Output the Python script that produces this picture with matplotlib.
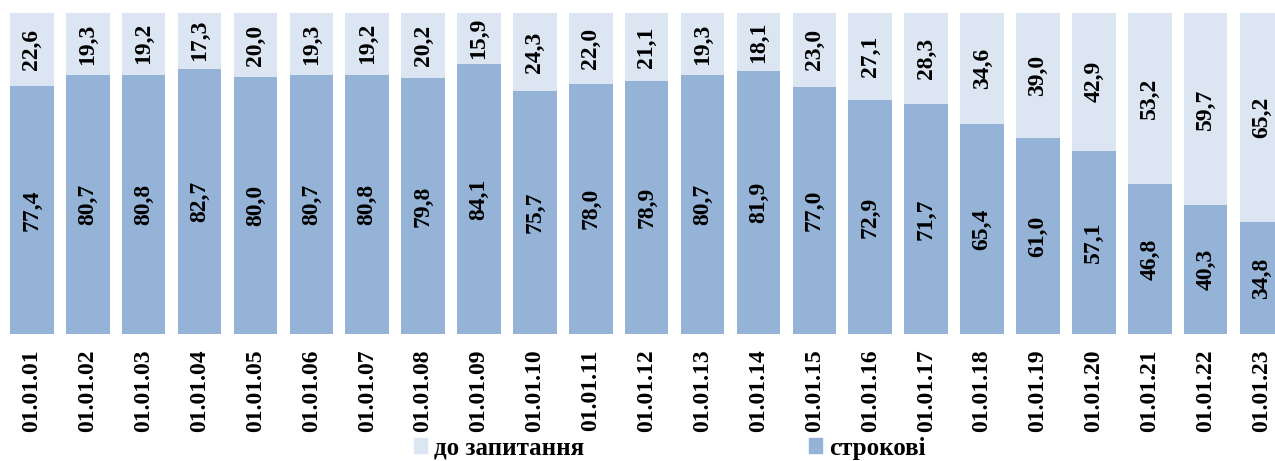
import matplotlib.pyplot as plt
from matplotlib.patches import Patch

# дані: частка строкових депозитів і депозитів до запитання, %
dates = ['01.01.01', '01.01.02', '01.01.03', '01.01.04', '01.01.05', '01.01.06',
         '01.01.07', '01.01.08', '01.01.09', '01.01.10', '01.01.11', '01.01.12',
         '01.01.13', '01.01.14', '01.01.15', '01.01.16', '01.01.17', '01.01.18',
         '01.01.19', '01.01.20', '01.01.21', '01.01.22', '01.01.23']
term = [77.4, 80.7, 80.8, 82.7, 80.0, 80.7, 80.8, 79.8, 84.1, 75.7, 78.0, 78.9,
        80.7, 81.9, 77.0, 72.9, 71.7, 65.4, 61.0, 57.1, 46.8, 40.3, 34.8]
demand = [22.6, 19.3, 19.2, 17.3, 20.0, 19.3, 19.2, 20.2, 15.9, 24.3, 22.0, 21.1,
          19.3, 18.1, 23.0, 27.1, 28.3, 34.6, 39.0, 42.9, 53.2, 59.7, 65.2]

c_term = '#95B3D7'
c_demand = '#DCE6F2'

plt.rcParams['font.family'] = ['Liberation Serif', 'DejaVu Serif']
plt.rcParams['font.weight'] = 'bold'

fig = plt.figure(figsize=(12.75, 4.61), dpi=100)
ax = fig.add_axes([0, 0.2755, 1, 0.6963])

x = list(range(len(dates)))
ax.bar(x, term, width=0.78, color=c_term)
ax.bar(x, demand, width=0.78, bottom=term, color=c_demand)

def fmt(v):
    return f'{v:.1f}'.replace('.', ',')

for i in x:
    ax.text(i, term[i] / 2, fmt(term[i]), rotation=90, ha='center', va='center',
            fontsize=17, fontweight='bold')
    ax.text(i, term[i] + demand[i] / 2, fmt(demand[i]), rotation=90,
            ha='center', va='center', fontsize=17, fontweight='bold')

ax.set_xlim(-0.569, 22.24)
ax.set_ylim(0, 100)
ax.set_xticks(x)
ax.set_xticklabels(dates, rotation=90, fontsize=17, fontweight='bold')
ax.tick_params(axis='x', length=0, pad=11)
ax.set_yticks([])
for s in ax.spines.values():
    s.set_visible(False)

handles = [Patch(color=c_demand, label='до запитання'),
           Patch(color=c_term, label='строкові')]
fig.legend(handles=handles, loc='center', bbox_to_anchor=(0.525, 0.028), ncol=2,
           frameon=False, prop={'size': 18, 'weight': 'bold'},
           handlelength=0.55, handleheight=0.55, handletextpad=0.25,
           columnspacing=9.0, borderpad=0)

fig.savefig('out.png', dpi=100)
